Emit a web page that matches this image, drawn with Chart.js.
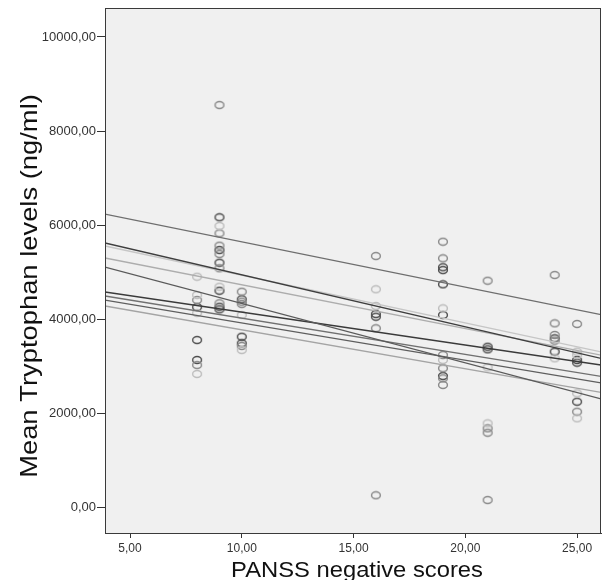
<!DOCTYPE html>
<html>
<head>
<meta charset="utf-8">
<script src="https://cdn.jsdelivr.net/npm/chart.js@4.4.1/dist/chart.umd.min.js"></script>
<style>
  html, body { margin: 0; padding: 0; background: #ffffff; }
  #c { display: block; }
</style>
</head>
<body>
<canvas id="c" width="602" height="580"></canvas>
<script>
// ---- data ----
const xTickValues = [5, 10, 15, 20, 25];
const yTickValues = [0, 2000, 4000, 6000, 8000, 10000];
const xAxisTitle = 'PANSS negative scores';
const yAxisTitle = 'Mean Tryptophan levels (ng/ml)';

const pointsDark = [
  [8,4255],[8,3553],[8,3128],
  [9,6164],[9,5468],[9,5198],[9,4602],[9,4262],[9,4206],
  [10,4419],[10,3623],[10,3483],
  [16,4106],[16,4049],
  [19,5100],[19,5040],[19,4738],[19,4085],[19,2787],
  [21,3411],[21,3355],
  [24,3589],[24,3305],
  [25,3128],[25,3071],[25,2240]
];
const pointsMid = [
  [8,4404],[8,3021],
  [9,8553],[9,5823],[9,5560],[9,5383],[9,5079],[9,4334],
  [10,4581],[10,4368],[10,4319],[10,3426],
  [16,5340],[16,3802],[16,249],
  [19,5645],[19,5291],[19,3234],[19,2951],[19,2738],[19,2596],
  [21,4815],[21,1674],[21,1581],[21,149],
  [24,4936],[24,3908],[24,3660],[24,3539],
  [25,3894],[25,2028]
];
const pointsLight = [
  [8,4900],[8,4510],[8,4128],[8,2830],
  [9,5979],[9,4687],
  [10,4085],[10,3340],
  [16,4632],[16,4277],
  [19,4227],[19,3128],
  [21,2972],[21,1780],
  [24,3163],
  [25,3305],[25,3234],[25,2419],[25,1887]
];

// fit lines: intercept (value at x = 0) and slope per unit
const fitIntercept = [6604, 6047, 5947, 5660, 5597, 4846, 4789, 4712, 4598];
const fitSlope     = [-96.4, -110.7, -101.5, -93.2, -126.5, -70.0, -77.1, -79.5, -82.8];
const fitColors    = ['#6e6e6e', '#3e3e3e', '#c6c6c6', '#adadad', '#5a5a5a', '#3a3a3a', '#707070', '#5e5e5e', '#a4a4a4'];

// axis ranges
const X_MIN = 3.88, X_MAX = 26.07;
const Y_MIN = -553, Y_MAX = 10617;

// ---- marker: hollow, slightly wide ellipse ----
function ellipseMarker(color) {
  const c = document.createElement('canvas');
  c.width = 12; c.height = 10;
  const g = c.getContext('2d');
  g.strokeStyle = color;
  g.lineWidth = 1.4;
  g.beginPath();
  g.ellipse(6, 5, 4.4, 3.5, 0, 0, Math.PI * 2);
  g.stroke();
  return c;
}

// ---- build datasets ----
const toXY = arr => arr.map(p => ({ x: p[0], y: p[1] }));
const scatterSet = (arr, color) => ({
  type: 'scatter',
  data: toXY(arr),
  pointStyle: ellipseMarker(color),
  borderColor: color,
  backgroundColor: 'rgba(0,0,0,0)',
  pointRadius: 5,
  pointHoverRadius: 5
});

const datasets = [];
fitIntercept.forEach((b, i) => {
  const m = fitSlope[i];
  datasets.push({
    type: 'line',
    data: [{ x: X_MIN, y: b + m * X_MIN }, { x: X_MAX, y: b + m * X_MAX }],
    borderColor: fitColors[i],
    borderWidth: 1.3,
    pointRadius: 0,
    fill: false
  });
});
datasets.push(scatterSet(pointsLight, '#bdbdbd'));
datasets.push(scatterSet(pointsMid, '#8a8a8a'));
datasets.push(scatterSet(pointsDark, '#4e4e4e'));

const font = "'Liberation Sans', Arial, sans-serif";

const plotDecor = {
  id: 'plotDecor',
  beforeDraw(chart) {
    const { ctx, chartArea: a } = chart;
    ctx.save();
    ctx.fillStyle = '#f0f0f0';
    ctx.fillRect(a.left, a.top, a.right - a.left, a.bottom - a.top);
    ctx.restore();
  },
  afterDraw(chart) {
    const { ctx, chartArea: a } = chart;
    ctx.save();
    ctx.strokeStyle = '#3a3a3a';
    ctx.lineWidth = 1;
    ctx.strokeRect(a.left + 0.5, a.top + 0.5, a.right - a.left - 1, a.bottom - a.top);
    ctx.restore();

    // axis titles (SPSS-style, slightly wide lettering)
    ctx.save();
    ctx.fillStyle = '#111';
    ctx.textAlign = 'center';
    ctx.textBaseline = 'middle';
    ctx.font = `22px ${font}`;
    ctx.translate(357, 571);
    ctx.scale(1.08, 1);
    ctx.fillText(xAxisTitle, 0, 0);
    ctx.restore();

    ctx.save();
    ctx.fillStyle = '#111';
    ctx.textAlign = 'center';
    ctx.textBaseline = 'middle';
    ctx.font = `24px ${font}`;
    ctx.translate(30, 286);
    ctx.rotate(-Math.PI / 2);
    ctx.scale(1.14, 1);
    ctx.fillText(yAxisTitle, 0, 0);
    ctx.restore();
  }
};

const fmt = v => v.toFixed(2).replace('.', ',');

new Chart(document.getElementById('c'), {
  data: { datasets },
  plugins: [plotDecor],
  options: {
    responsive: false,
    animation: false,
    events: [],
    layout: { autoPadding: false, padding: { top: 8, right: 1, left: 0, bottom: 0 } },
    plugins: { legend: { display: false }, tooltip: { enabled: false } },
    scales: {
      x: {
        type: 'linear',
        min: X_MIN, max: X_MAX,
        afterBuildTicks: s => { s.ticks = xTickValues.map(v => ({ value: v })); },
        afterFit: s => { s.height = 47; s.paddingLeft = 0; s.paddingRight = 0; },
        grid: { display: true, drawOnChartArea: false, drawTicks: true, tickLength: 5, color: '#333', tickWidth: 1 },
        border: { display: true, color: '#3a3a3a' },
        ticks: { callback: v => fmt(v), color: '#333', font: { family: font, size: 12 }, padding: 3, maxRotation: 0 },
        title: { display: false }
      },
      y: {
        type: 'linear',
        min: Y_MIN, max: Y_MAX,
        afterBuildTicks: s => { s.ticks = yTickValues.map(v => ({ value: v })); },
        afterFit: s => { s.width = 105; s.paddingTop = 0; s.paddingBottom = 0; },
        grid: { display: true, drawOnChartArea: false, drawTicks: true, tickLength: 8, color: '#333', tickWidth: 1 },
        border: { display: true, color: '#3a3a3a' },
        ticks: { callback: v => fmt(v), color: '#333', font: { family: font, size: 13 }, padding: 1 },
        title: { display: false }
      }
    }
  }
});
</script>
</body>
</html>
